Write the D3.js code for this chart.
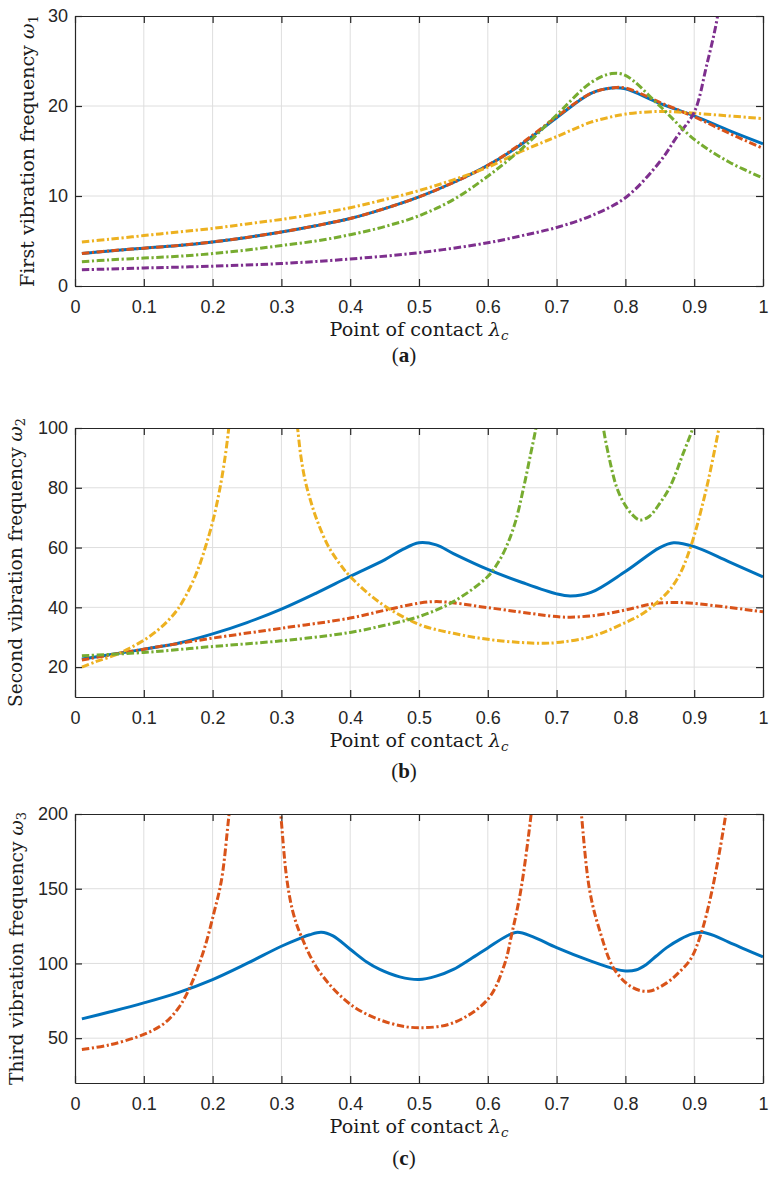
<!DOCTYPE html>
<html><head><meta charset="utf-8">
<script src="https://cdn.jsdelivr.net/npm/d3@7/dist/d3.min.js"></script>
<style>body{margin:0;background:#fff}</style>
</head><body>
<svg id="c" width="774" height="1177" xmlns="http://www.w3.org/2000/svg"></svg>
<script>
// ---------- tick values / labels ----------
const xTicks = [0,0.1,0.2,0.3,0.4,0.5,0.6,0.7,0.8,0.9,1];
const xTickLabels = ["0","0.1","0.2","0.3","0.4","0.5","0.6","0.7","0.8","0.9","1"];
const yTicksA = [0,10,20,30];
const yTicksB = [20,40,60,80,100];
const yTicksC = [50,100,150,200];

// ---------- panel (a): first vibration frequency ----------
const lamA = [0.01,0.05,0.1,0.15,0.2,0.25,0.3,0.35,0.4,0.45,0.5,0.55,0.6,0.65,0.7,0.75,0.78,0.8,0.85,0.9,0.95,1.0];
const blueA   = [3.6,3.9,4.2,4.5,4.9,5.4,6.0,6.7,7.5,8.6,9.9,11.5,13.4,15.8,18.7,21.4,22.0,21.9,20.3,18.9,17.3,15.8];
const orangeA = [3.6,3.9,4.2,4.5,4.9,5.4,6.0,6.7,7.5,8.6,9.9,11.5,13.4,15.9,18.8,21.4,22.0,22.0,20.4,18.8,17.0,15.3];
const yellowA = [4.9,5.2,5.6,6.0,6.4,6.9,7.4,8.0,8.7,9.6,10.6,11.8,13.2,15.0,16.6,18.2,18.8,19.1,19.4,19.2,18.9,18.6];
const greenA  = [2.7,2.9,3.1,3.3,3.6,4.0,4.5,5.0,5.7,6.6,7.8,9.6,12.2,15.3,19.0,22.6,23.6,23.4,20.0,16.3,13.8,12.0];
const lamPurpleA = [0.01,0.1,0.2,0.3,0.4,0.5,0.6,0.65,0.7,0.75,0.8,0.85,0.875,0.9,0.918,0.934,0.945];
const purpleA    = [1.8,2.0,2.2,2.5,3.0,3.7,4.8,5.6,6.5,7.8,9.8,13.8,16.6,19.3,24.5,30,37];

// ---------- panel (b): second vibration frequency ----------
const lamBlueB = [0.01,0.05,0.1,0.15,0.2,0.25,0.3,0.35,0.4,0.45,0.475,0.5,0.525,0.55,0.6,0.65,0.7,0.72,0.75,0.8,0.85,0.87,0.9,0.95,1.0];
const blueB    = [22.7,24.1,26.0,28.0,31.1,34.9,39.4,44.7,50.4,55.9,59.2,61.6,60.9,58.0,52.7,48.3,44.5,43.8,45.0,52.0,60.0,61.6,60.3,55.3,50.2];
const lamRedB = [0.01,0.1,0.2,0.3,0.4,0.45,0.5,0.53,0.6,0.7,0.72,0.76,0.8,0.84,0.87,0.9,1.0];
const redB    = [22.4,26.0,29.7,33.0,36.4,39.0,41.4,41.9,39.9,36.9,36.7,37.4,39.1,41.2,41.6,41.3,38.5];
const lamYellowB1 = [0.01,0.03,0.06,0.08,0.1,0.12,0.135,0.15,0.167,0.18,0.19,0.2,0.21,0.218,0.223,0.226];
const yellowB1    = [20.0,21.8,24.2,26.4,29.0,32.3,35.5,39.6,46.5,53.5,60.5,68.5,79,90,99,106];
const lamYellowB2 = [0.32,0.3235,0.328,0.334,0.342,0.352,0.368,0.385,0.40,0.443,0.5,0.55,0.6,0.65,0.68,0.7,0.75,0.8,0.826,0.85,0.865,0.88,0.89,0.9,0.91,0.92,0.93,0.936,0.94];
const yellowB2    = [106,100,91,83,76,69,60.5,54.5,50.3,41.6,34.3,31.3,29.3,28.2,28.0,28.2,30.2,34.9,38,42.5,46,51.5,57,64,72.5,82,93,100,105];
const lamGreenB1 = [0.01,0.1,0.2,0.3,0.4,0.45,0.5,0.55,0.6,0.615,0.627,0.64,0.652,0.662,0.67,0.675];
const greenB1    = [23.8,24.9,26.9,28.8,31.6,34.0,36.9,41.9,50.3,55,60.3,68.5,80,91,100,107];
const lamGreenB2 = [0.766,0.768,0.775,0.787,0.798,0.81,0.821,0.835,0.85,0.865,0.884,0.898,0.901];
const greenB2    = [104,100,91.5,80.4,74.8,71,69.2,70.5,74.8,80.4,91.5,100,103];

// ---------- panel (c): third vibration frequency ----------
const lamBlueC = [0.01,0.05,0.1,0.15,0.2,0.25,0.3,0.327,0.341,0.358,0.375,0.4,0.424,0.443,0.472,0.5,0.525,0.55,0.575,0.6,0.627,0.643,0.665,0.7,0.75,0.785,0.8,0.815,0.83,0.845,0.86,0.88,0.897,0.911,0.93,0.95,0.975,1.0];
const blueC    = [62.9,67.5,73.6,80.5,89.2,100,111.5,116.8,119.2,120.9,118.4,109.5,101,96,91,89.2,91.5,96,103,110.4,118.2,120.9,118.0,110.6,101.5,96.2,95.0,95.6,99.2,105,110.6,116.3,119.8,120.9,118.5,114.2,109.3,104.4];
const lamRedC1 = [0.01,0.05,0.1,0.13,0.15,0.165,0.186,0.202,0.213,0.224,0.228];
const redC1    = [42.4,45.5,52.5,60,70,82,107,134,156,200,215];
const lamRedC2 = [0.296,0.299,0.308,0.317,0.329,0.356,0.404,0.458,0.5,0.55,0.6,0.624,0.635,0.648,0.663,0.666];
const redC2    = [215,200,156,134,118,94,71.4,60,57,60.3,76,99,120,149,200,215];
const lamRedC3 = [0.733,0.736,0.748,0.762,0.784,0.81,0.834,0.86,0.88,0.895,0.91,0.926,0.946,0.95];
const redC3    = [215,200,149,123,96,84,81.4,87,95,103,120,149,200,215];

// ---------- drawing ----------
const C = {blue:"#0072BD", orange:"#D95319", yellow:"#EDB120", purple:"#7E2F8E", green:"#77AC30"};
const AX = "#262626";
const SERIF = "'DejaVu Serif', serif";
const SERIF2 = "'Liberation Serif', 'Times New Roman', serif";
const SANS = "'Liberation Sans', Arial, sans-serif";
const svg = d3.select("#c");
const X0 = 75, X1 = 763;
const zip = (xs, ys) => xs.map((v,i)=>[v, ys[i]]);
const DASHDOT = "7.5,2.6,2.2,2.6";

function fitText(sel, target) {
  const fs = parseFloat(sel.attr("font-size"));
  const len = sel.node().getComputedTextLength();
  sel.attr("font-size", (fs * target / len).toFixed(2));
}

function panel(o) {
  const x = d3.scaleLinear().domain([0,1]).range([X0, X1]);
  const y = d3.scaleLinear().domain(o.ydom).range([o.bottom, o.top]);
  const g = svg.append("g");
  const id = "clip" + o.name;
  svg.append("defs").append("clipPath").attr("id", id)
    .append("rect").attr("x", X0).attr("y", o.top).attr("width", X1-X0).attr("height", o.bottom-o.top);

  // grid
  g.append("g").selectAll("line").data(xTicks.slice(1,-1)).join("line")
    .attr("x1", d=>x(d)).attr("x2", d=>x(d)).attr("y1", o.top).attr("y2", o.bottom)
    .attr("stroke", "#dedede").attr("stroke-width", 1);
  g.append("g").selectAll("line").data(o.yticks.filter(t=>t>o.ydom[0] && t<o.ydom[1])).join("line")
    .attr("x1", X0).attr("x2", X1).attr("y1", d=>y(d)).attr("y2", d=>y(d))
    .attr("stroke", "#dedede").attr("stroke-width", 1);

  // series
  const line = d3.line().x(d=>x(d[0])).y(d=>y(d[1])).curve(d3.curveCatmullRom.alpha(0.5));
  const lg = g.append("g").attr("clip-path", `url(#${id})`);
  o.series.forEach(s => {
    lg.append("path").attr("d", line(s.pts)).attr("fill","none")
      .attr("stroke", s.color).attr("stroke-width", s.w || 3)
      .attr("stroke-dasharray", s.dash ? DASHDOT : null)
      .attr("stroke-linejoin","round");
  });

  // axes
  const styleAxis = sel => {
    sel.select(".domain").attr("stroke", AX).attr("stroke-width", 1.2);
    sel.selectAll(".tick line").attr("stroke", AX).attr("stroke-width", 1.2);
    sel.selectAll(".tick text").attr("fill", AX).attr("font-family", SANS).attr("font-size", 18);
  };
  g.append("g").attr("transform", `translate(0,${o.bottom})`)
    .call(d3.axisBottom(x).tickValues(xTicks).tickFormat((d,i)=>xTickLabels[i]).tickSizeInner(-7).tickSizeOuter(0).tickPadding(14))
    .call(styleAxis);
  g.append("g").attr("transform", `translate(0,${o.top})`)
    .call(d3.axisTop(x).tickValues(xTicks).tickFormat("").tickSizeInner(-7).tickSizeOuter(0))
    .call(styleAxis);
  g.append("g").attr("transform", `translate(${X0},0)`)
    .call(d3.axisLeft(y).tickValues(o.yticks).tickFormat(d3.format("d")).tickSizeInner(-7).tickSizeOuter(0).tickPadding(7))
    .call(styleAxis);
  g.append("g").attr("transform", `translate(${X1},0)`)
    .call(d3.axisRight(y).tickValues(o.yticks).tickFormat("").tickSizeInner(-7).tickSizeOuter(0))
    .call(styleAxis);
  g.selectAll(".tick text").attr("font-family", SANS).attr("font-size", 18);

  // x title
  const xt = g.append("text").attr("x", (X0+X1)/2).attr("y", o.bottom + 50)
    .attr("text-anchor","middle").attr("font-family", SERIF)
    .attr("font-size", 18).attr("fill", "#1a1a1a");
  xt.append("tspan").text("Point of contact ");
  xt.append("tspan").attr("font-style","italic").text("λ");
  xt.append("tspan").attr("font-style","italic").attr("font-size","70%").attr("dy","0.3em").text("c");
  fitText(xt, 179);

  // y title
  const yt = g.append("text")
    .attr("transform", `translate(${o.ylx},${(o.top+o.bottom)/2}) rotate(-90)`)
    .attr("text-anchor","middle").attr("font-family", SERIF)
    .attr("font-size", 19).attr("fill", "#1a1a1a");
  yt.append("tspan").text(o.ylabel + " ");
  yt.append("tspan").attr("font-style","italic").text("ω");
  yt.append("tspan").attr("font-size","70%").attr("dy","0.3em").text(o.ysub);
  fitText(yt, o.ylen);

  // panel letter
  const pl = g.append("text").attr("x", 404).attr("y", o.bottom + o.letterDy)
    .attr("text-anchor","middle").attr("font-family", SERIF2)
    .attr("font-size", 21).attr("fill", "#1a1a1a");
  pl.append("tspan").text("(");
  pl.append("tspan").attr("font-weight","bold").text(o.letter);
  pl.append("tspan").text(")");
}

panel({
  name:"a", top:16, bottom:286, ydom:[0,30], yticks:yTicksA,
  ylabel:"First vibration frequency", ysub:"1", ylx:33.5, ylen:272, letter:"a", letterDy:76,
  series:[
    {pts:zip(lamA, blueA), color:C.blue, dash:false},
    {pts:zip(lamA, orangeA), color:C.orange, dash:true},
    {pts:zip(lamA, yellowA), color:C.yellow, dash:true},
    {pts:zip(lamPurpleA, purpleA), color:C.purple, dash:true},
    {pts:zip(lamA, greenA), color:C.green, dash:true}
  ]
});
panel({
  name:"b", top:428, bottom:697, ydom:[10,100], yticks:yTicksB,
  ylabel:"Second vibration frequency", ysub:"2", ylx:21.5, ylen:289, letter:"b", letterDy:81,
  series:[
    {pts:zip(lamBlueB, blueB), color:C.blue, dash:false},
    {pts:zip(lamRedB, redB), color:C.orange, dash:true},
    {pts:zip(lamYellowB1, yellowB1), color:C.yellow, dash:true},
    {pts:zip(lamYellowB2, yellowB2), color:C.yellow, dash:true},
    {pts:zip(lamGreenB1, greenB1), color:C.green, dash:true},
    {pts:zip(lamGreenB2, greenB2), color:C.green, dash:true}
  ]
});
panel({
  name:"c", top:814, bottom:1083, ydom:[20,200], yticks:yTicksC,
  ylabel:"Third vibration frequency", ysub:"3", ylx:22.5, ylen:273, letter:"c", letterDy:82,
  series:[
    {pts:zip(lamBlueC, blueC), color:C.blue, dash:false},
    {pts:zip(lamRedC1, redC1), color:C.orange, dash:true},
    {pts:zip(lamRedC2, redC2), color:C.orange, dash:true},
    {pts:zip(lamRedC3, redC3), color:C.orange, dash:true}
  ]
});
</script>
</body></html>
